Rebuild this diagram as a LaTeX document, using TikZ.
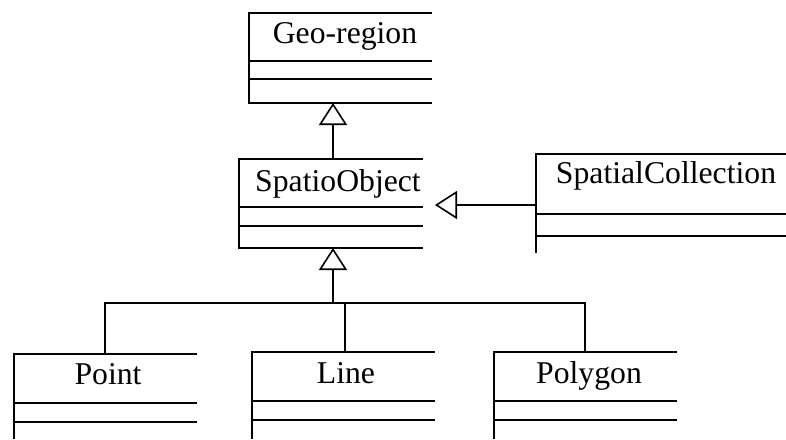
\documentclass[tikz,border=0pt]{standalone}
\usepackage{fontspec}
\setmainfont{Liberation Serif}
\usetikzlibrary{arrows.meta}

\tikzset{
	box/.style={line width=2.4pt},
	link/.style={line width=1.6pt},
	gen/.style={-{Triangle[open,length=22pt,width=28pt]}},
	title/.style={anchor=base,inner sep=0pt,font=\fontsize{31.7}{36}\selectfont},
}

\begin{document}
\begin{tikzpicture}[x=1pt,y=-1pt]
		\useasboundingbox (0,0) rectangle (786,439);
		% class boxes (open on the right)
		\draw[box] (432,13) -- (249,13) -- (249,103) -- (432,103);
		\draw[box] (249,61) -- (432,61);
		\draw[box] (249,79) -- (432,79);
		\draw[box] (423,159) -- (239,159) -- (239,248) -- (423,248);
		\draw[box] (239,207) -- (423,207);
		\draw[box] (239,226) -- (423,226);
		\draw[box] (786,154) -- (536,154) -- (536,253);
		\draw[box] (536,214) -- (786,214);
		\draw[box] (536,236) -- (786,236);
		\draw[box] (197,354) -- (14,354) -- (14,439);
		\draw[box] (14,403) -- (197,403);
		\draw[box] (14,422) -- (197,422);
		\draw[box] (435,352) -- (252,352) -- (252,439);
		\draw[box] (252,401) -- (435,401);
		\draw[box] (252,420) -- (435,420);
		\draw[box] (677,352) -- (494,352) -- (494,439);
		\draw[box] (494,401) -- (677,401);
		\draw[box] (494,420) -- (677,420);
		% class names
		\node[title] (georegion) at (345,43) {Geo-region};
		\node[title] (spatioobject) at (338,191) {SpatioObject};
		\node[title] (collection) at (666,183) {SpatialCollection};
		\node[title] (point) at (108,384) {Point};
		\node[title] (line) at (346,383) {Line};
		\node[title] (polygon) at (589,383) {Polygon};
		% attachment points
		\coordinate (geo-bot) at (333,103);
		\coordinate (so-top) at (333,159);
		\coordinate (so-right) at (435,205);
		\coordinate (sc-left) at (536,205);
		\coordinate (so-bot) at (333,248);
		\coordinate (fork) at (333,303);
		\coordinate (pt-top) at (105,354);
		\coordinate (ln-top) at (345,352);
		\coordinate (pg-top) at (585,352);
		% generalisations
		\draw[link,gen] (so-top) -- (geo-bot);
		\draw[link,gen] (sc-left) -- (so-right);
		\draw[link,gen] (fork) -- (so-bot);
		\draw[link] (pt-top) |- (pg-top |- fork) -- (pg-top);
		\draw[link] (ln-top) -- (ln-top |- fork);
	\end{tikzpicture}
\end{document}
